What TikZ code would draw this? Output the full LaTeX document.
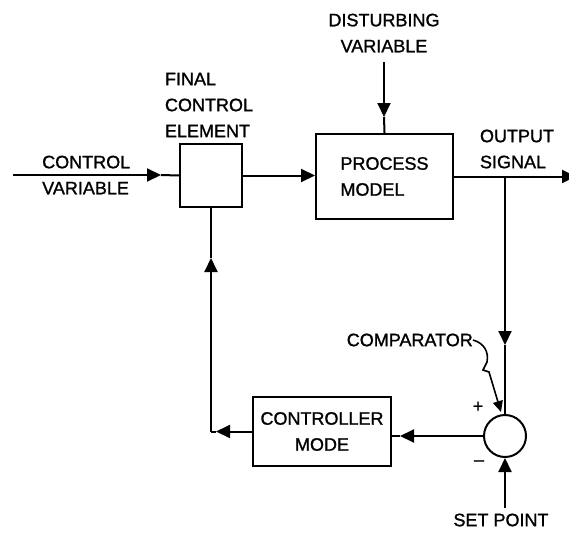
\documentclass[tikz,border=0pt]{standalone}
\usepackage{fontspec}
\setmainfont{Liberation Sans}[FakeBold=1.2]
\usetikzlibrary{arrows.meta}
\tikzset{
  blk/.style={draw, line width=2pt, inner sep=0pt, align=center},
  lbl/.style={align=left, inner sep=0pt},
  flow/.style={line width=2pt},
  tip/.style={line width=2pt, -{Triangle[length=14pt,width=13pt]}},
}
\begin{document}
\begin{tikzpicture}[x=1pt,y=-1pt,font=\fontsize{18}{26}\selectfont]
\useasboundingbox (0,0) rectangle (569,532);

% blocks
\node[blk, minimum width=62pt, minimum height=63pt] (fce) at (211,175.5) {};
\node[blk, minimum width=137pt, minimum height=85pt, align=left] (proc) at (384.5,176.5) {PROCESS\\MODEL};
\node[blk, minimum width=138pt, minimum height=69pt] (ctrl) at (322,431.5) {CONTROLLER\\MODE};
\node[draw, circle, line width=2pt, minimum size=42pt, inner sep=0pt] (comp) at (505,436) {};

% labels
\node[lbl, anchor=west] (cvlab) at (42,175) {CONTROL\\VARIABLE};
\node[lbl] (fcelab) at (209,105) {FINAL\\CONTROL\\ELEMENT};
\node[lbl, align=center] (dvlab) at (384,33) {DISTURBING\\VARIABLE};
\node[lbl] (oslab) at (517,149) {OUTPUT\\SIGNAL};
\node[lbl] (splab) at (501,520) {SET POINT};
\node[lbl, anchor=east] (cmplab) at (473,340) {COMPARATOR};
\node[lbl] (plus) at (478,407) {+};
\node[lbl] (minus) at (479,463) {–};

% forward path
\coordinate (cvin) at (13,175);
\coordinate (cvtip) at (161,175);
\draw[tip] (cvin) -- (cvtip);
\draw[flow] (cvtip) -- (fce.west);
\draw[tip] (fce.east) -- (fce.east -| proc.west);

\coordinate (dvin) at (384,62);
\coordinate (dvtip) at (384,117);
\draw[tip] (dvin) -- (dvtip);
\draw[flow] (dvtip) -- (proc.north);

\coordinate (osout) at (576,176.5);
\draw[tip] (proc.east) -- (osout);

% feedback path
\coordinate (branch) at (comp.north |- proc.east);
\coordinate (fbtip) at (505,345);
\draw[tip] (branch) -- (fbtip);
\draw[flow] (fbtip) -- (comp.north);

\coordinate (cetip) at (400,436);
\draw[tip] (comp.west) -- (cetip);
\draw[flow] (cetip) -- (ctrl.east |- comp.west);

\coordinate (lftip) at (216,431.5);
\coordinate (corner) at (211,431.5);
\coordinate (uptip) at (211,258);
\draw[tip] (ctrl.west) -- (lftip);
\draw[flow] (lftip) -- (corner);
\draw[tip] (corner) -- (uptip);
\draw[flow] (uptip) -- (fce.south);

\coordinate (spin) at (505,508);
\draw[tip] (spin) -- (comp.south);

\draw[line width=1.6pt, -{Triangle[length=11pt,width=10pt]}] (cmplab.east) .. controls (484,343) and (489,352) .. (487,362) -- (483,370) -- (489,372) -- (501,412);
\end{tikzpicture}
\end{document}
